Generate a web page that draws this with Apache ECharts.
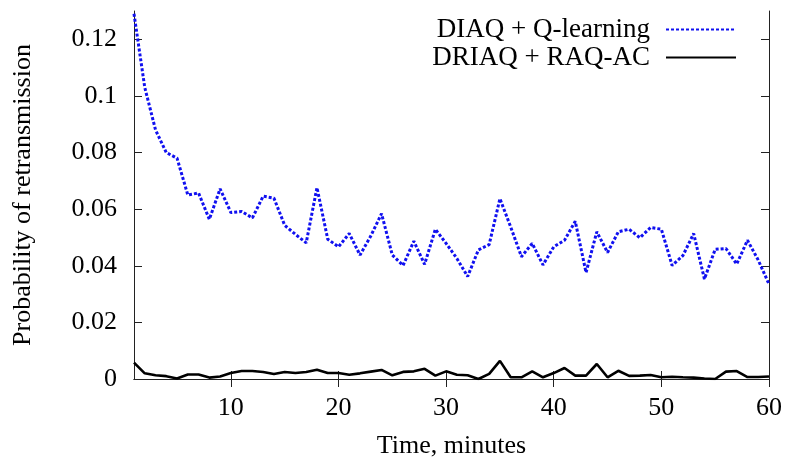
<!DOCTYPE html>
<html>
<head>
<meta charset="utf-8">
<script src="https://cdn.jsdelivr.net/npm/echarts@6/dist/echarts.min.js"></script>
<style>html,body{margin:0;padding:0;background:#fff}#c{width:785px;height:464px}</style>
</head>
<body>
<div id="c"></div>
<script>
const minutes = [];
for (let i = 1; i <= 60; i++) minutes.push(i);
const diaqQ = [0.129,0.103,0.088,0.080,0.078,0.065,0.0657,0.0564,0.0672,0.0588,
  0.0592,0.0569,0.0646,0.0639,0.0543,0.0511,0.0481,0.0676,0.0494,0.0467,
  0.0514,0.0438,0.0505,0.0584,0.0438,0.0401,0.0487,0.0405,0.0529,0.0479,
  0.0426,0.0362,0.0456,0.0475,0.0637,0.0537,0.0432,0.0479,0.0403,0.0467,
  0.049,0.0557,0.0376,0.052,0.0447,0.052,0.0529,0.0499,0.0535,0.0529,
  0.0401,0.0436,0.0514,0.0353,0.0458,0.0461,0.0406,0.049,0.042,0.0335];
const driaqRaq = [0.0058,0.002,0.0013,0.001,0.0002,0.0016,0.0016,0.0005,0.0009,0.0021,
  0.0028,0.0028,0.0025,0.0018,0.0025,0.0021,0.0025,0.0033,0.0021,0.0021,
  0.0015,0.002,0.0026,0.0032,0.0013,0.0025,0.0027,0.0036,0.0012,0.0027,
  0.0015,0.0013,0.0,0.0018,0.0064,0.0006,0.0006,0.0027,0.0006,0.0021,
  0.0039,0.0012,0.0012,0.0053,0.0006,0.0029,0.0011,0.0012,0.0014,0.0006,
  0.0008,0.0006,0.0005,0.0002,0.0,0.0026,0.0028,0.0007,0.0007,0.0009];
const xTicks = [10,20,30,40,50,60];
const yTicks = [0,0.02,0.04,0.06,0.08,0.1,0.12];
const seriesNames = ['DIAQ + Q-learning','DRIAQ + RAQ-AC'];

const font = 'Liberation Serif';
const fs = 26;
const frame = '#222';
const chart = echarts.init(document.getElementById('c'));
const baseX = {type:'value',min:1,max:60,splitLine:{show:false},
  axisLine:{show:true,lineStyle:{color:frame,width:1}},
  axisTick:{show:true,inside:true,length:8,customValues:xTicks,lineStyle:{color:frame}}};
const baseY = {type:'value',min:0,max:0.13,splitLine:{show:false},
  axisLine:{show:true,lineStyle:{color:frame,width:1}},
  axisTick:{show:true,inside:true,length:8,customValues:yTicks,lineStyle:{color:frame}}};
chart.setOption({
  animation:false,
  grid:{left:134,right:14,top:11,bottom:82,containLabel:false},
  legend:{orient:'vertical',right:43,top:11,align:'right',itemWidth:70,itemHeight:14,itemGap:1,
    itemStyle:{opacity:0},
    textStyle:{fontFamily:font,fontSize:27,color:'#000',padding:[0,11,0,0]},
    data:seriesNames},
  xAxis:[
    Object.assign({},baseX,{position:'bottom',name:'Time, minutes',nameLocation:'middle',nameGap:54,
      nameTextStyle:{fontFamily:font,fontSize:fs,color:'#000'},
      axisLabel:{customValues:xTicks,fontFamily:font,fontSize:fs,color:'#000',margin:16}}),
    Object.assign({},baseX,{position:'top',axisLabel:{show:false}})
  ],
  yAxis:[
    Object.assign({},baseY,{position:'left',name:'Probability of retransmission',nameLocation:'middle',nameGap:98,
      nameTextStyle:{fontFamily:font,fontSize:fs,color:'#000'},
      axisLabel:{customValues:yTicks,fontFamily:font,fontSize:fs,color:'#000',margin:17}}),
    Object.assign({},baseY,{position:'right',axisLabel:{show:false}})
  ],
  series:[
    {name:seriesNames[0],type:'line',symbol:'none',data:minutes.map((m,i)=>[m,diaqQ[i]]),
      lineStyle:{color:'#1010f0',width:3,type:[3,2]},itemStyle:{color:'#1010f0'}},
    {name:seriesNames[1],type:'line',symbol:'none',data:minutes.map((m,i)=>[m,driaqRaq[i]]),
      lineStyle:{color:'#000',width:2.6},itemStyle:{color:'#000'}}
  ]
});
</script>
</body>
</html>
